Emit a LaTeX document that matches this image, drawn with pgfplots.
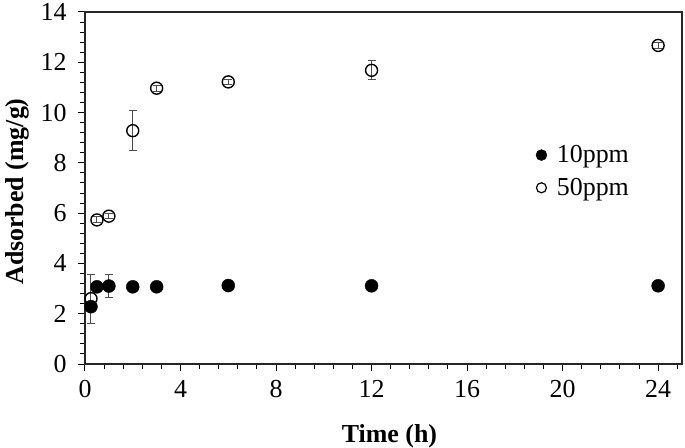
\documentclass[border=0pt]{standalone}
\usepackage{pgfplots}
\pgfplotsset{compat=1.18}
\usepackage{fontspec}
\setmainfont{Liberation Serif}

\begin{document}
\begin{tikzpicture}
\begin{axis}[
    scale only axis,
    width=597bp, height=352bp,
    xmin=0, xmax=25, ymin=0, ymax=14,
    xtick={0,4,...,24}, ytick={0,2,...,14},
    minor xtick={0.8,1.6,...,24.8},
    minor ytick={0.4,0.8,...,13.6},
    xtick pos=bottom, ytick pos=left,
    tick align=outside,
    major tick length=7bp, minor tick length=5bp,
    every tick/.append style={black, line width=1bp},
    axis line style={line width=1.3bp, black!85},
    font=\fontsize{26}{30}\selectfont,
    /pgf/number format/assume math mode=true,
    xticklabel style={yshift=-6bp},
    yticklabel style={xshift=-8bp},
    xlabel={\textbf{Time (h)}},
    ylabel={\textbf{Adsorbed (mg/g)}},
    every axis x label/.style={at={(axis description cs:0.51,-0.205)}, anchor=center},
    every axis y label/.style={at={(axis description cs:-0.114,0.49)}, rotate=90, anchor=center},
    legend style={draw=none, fill=none, at={(0.75,0.632)}, anchor=north west,
        font=\fontsize{26}{30}\selectfont, row sep=10bp, column sep=8bp},
    legend cell align=left,
    reverse legend,
    error bars/error bar style={gray!60!black, line width=1bp},
    error bars/error mark options={rotate=90, gray!60!black, mark size=4bp, line width=1bp},
]
% 50 ppm (drawn first so that the filled marks lie above)
\addplot[black, only marks, mark=o, mark size=6bp, mark options={draw=black, line width=1.4bp},
    legend image post style={mark size=5bp, mark options={draw=black, line width=1.2bp}},
    error bars/.cd, y dir=both, y explicit]
    coordinates {
    (0.25,2.60) +- (0,0.97)
    (0.5,5.73) +- (0,0.12)
    (1,5.88) +- (0,0.10)
    (2,9.28) +- (0,0.80)
    (3,10.97) +- (0,0.12)
    (6,11.22) +- (0,0.10)
    (12,11.68) +- (0,0.38)
    (24,12.67) +- (0,0.12)
};
\addlegendentry{50ppm}
% 10 ppm
\addplot[black, only marks, mark=*, mark size=6.5bp, mark options={fill=black, draw=black},
    legend image post style={mark size=5.5bp},
    error bars/.cd, y dir=both, y explicit]
    coordinates {
    (0.25,2.28) +- (0,0.05)
    (0.5,3.07) +- (0,0.05)
    (1,3.10) +- (0,0.45)
    (2,3.07) +- (0,0.05)
    (3,3.07) +- (0,0.05)
    (6,3.12) +- (0,0.08)
    (12,3.11) +- (0,0.05)
    (24,3.11) +- (0,0.05)
};
\addlegendentry{10ppm}
\end{axis}
\pgfresetboundingbox
\path[use as bounding box] ([shift={(-85bp,-84bp)}]current axis.south west)
    rectangle ([shift={(3bp,12bp)}]current axis.north east);
\end{tikzpicture}
\end{document}
